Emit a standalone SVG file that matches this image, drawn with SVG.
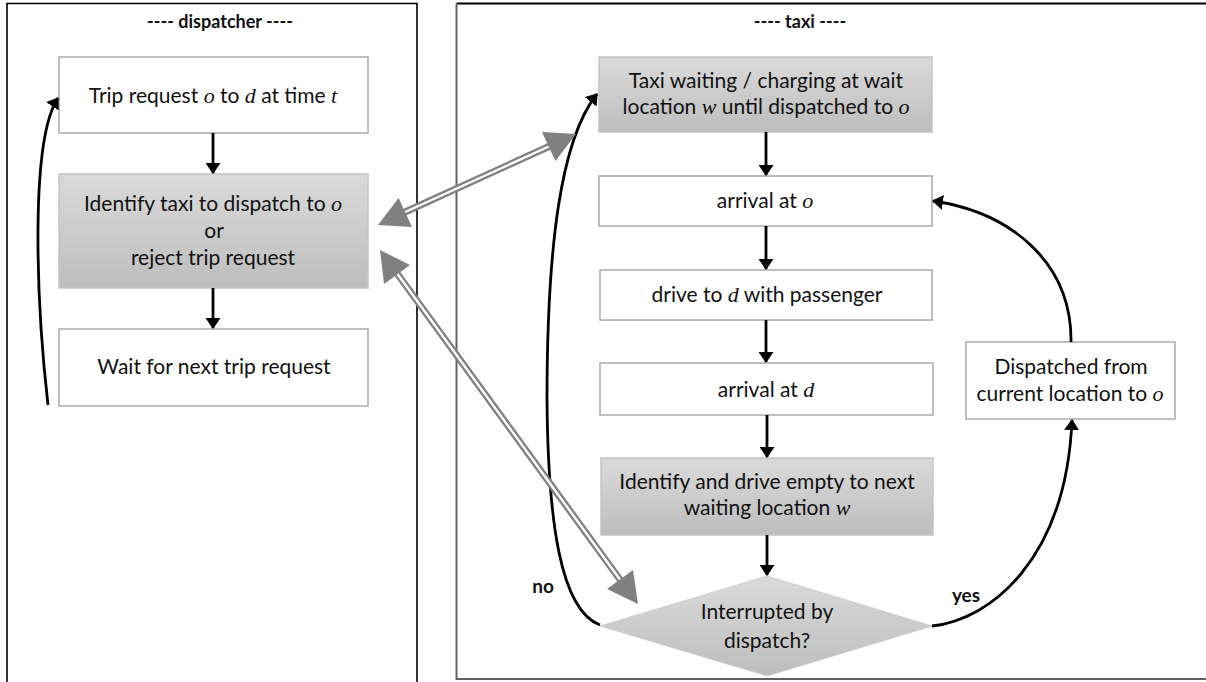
<svg xmlns="http://www.w3.org/2000/svg" width="1206" height="682" viewBox="0 0 1206 682">
  <defs>
    <linearGradient id="gray" x1="0" y1="0" x2="0" y2="1">
      <stop offset="0" stop-color="#dadada"/>
      <stop offset="1" stop-color="#bdbdbd"/>
    </linearGradient>
    <marker id="ah" markerUnits="userSpaceOnUse" markerWidth="11" markerHeight="15" viewBox="0 0 11 15" refX="10" refY="7.5" orient="auto">
      <path d="M0,0 L11,7.5 L0,15 z" fill="#000"/>
    </marker>
    <style>
      text { font-family: Lato, "Liberation Sans", sans-serif; font-size: 21px; fill: #111; }
      .m { font-family: "Liberation Serif", "DejaVu Serif", serif; font-style: italic; font-size: 22px; }
      .b { font-weight: bold; font-size: 18px; }
      .lbl { font-weight: bold; font-size: 19px; }
      .wbox { fill: #fff; stroke: #ababab; stroke-width: 1.5; }
      .gbox { fill: url(#gray); stroke: #c4c4c4; stroke-width: 1.5; }
      .arr { fill: none; stroke: #000; stroke-width: 2.8; marker-end: url(#ah); }
      .dl-out { fill: none; stroke: #808080; stroke-width: 7; }
      .dl-in { fill: none; stroke: #fff; stroke-width: 2.4; }
      .dh { fill: #808080; }
    </style>
  </defs>

  <rect width="1206" height="682" fill="#fff"/>

  <!-- panels -->
  <g id="panel-dispatcher">
    <path d="M7,690 V3.5 H417 V690" fill="none" stroke="#000" stroke-width="1.6"/>
    <text class="b" x="220" y="28" text-anchor="middle">---- dispatcher ----</text>
  </g>
  <g id="panel-taxi">
    <path d="M1210,3.5 H456.5" fill="none" stroke="#000" stroke-width="2"/>
    <path d="M456.5,3.5 V679 H1210" fill="none" stroke="#606060" stroke-width="2"/>
    <text class="b" x="800" y="28" text-anchor="middle">---- taxi ----</text>
  </g>

  <!-- dispatcher nodes -->
  <g id="trip-request">
    <rect class="wbox" x="59" y="57" width="309" height="76"/>
    <text x="213" y="103" text-anchor="middle">Trip request <tspan class="m">o</tspan> to <tspan class="m">d</tspan> at time <tspan class="m">t</tspan></text>
  </g>
  <g id="identify-taxi">
    <rect class="gbox" x="59" y="174" width="309" height="114"/>
    <text x="213" y="211" text-anchor="middle">Identify taxi to dispatch to <tspan class="m">o</tspan></text>
    <text x="214" y="238" text-anchor="middle">or</text>
    <text x="213" y="265" text-anchor="middle">reject trip request</text>
  </g>
  <g id="wait-next">
    <rect class="wbox" x="59" y="329" width="309" height="77"/>
    <text x="214" y="374" text-anchor="middle">Wait for next trip request</text>
  </g>

  <!-- taxi nodes -->
  <g id="taxi-waiting">
    <rect class="gbox" x="599" y="57" width="333" height="75"/>
    <text x="766" y="88" text-anchor="middle">Taxi waiting / charging at wait</text>
    <text x="766" y="114" text-anchor="middle">location <tspan class="m">w</tspan> until dispatched to <tspan class="m">o</tspan></text>
  </g>
  <g id="arrival-o">
    <rect class="wbox" x="599" y="176" width="333" height="50"/>
    <text x="765" y="208" text-anchor="middle">arrival at <tspan class="m">o</tspan></text>
  </g>
  <g id="drive-d">
    <rect class="wbox" x="600" y="270" width="332" height="50"/>
    <text x="767" y="302" text-anchor="middle">drive to <tspan class="m">d</tspan> with passenger</text>
  </g>
  <g id="arrival-d">
    <rect class="wbox" x="600" y="363" width="333" height="52"/>
    <text x="766" y="397" text-anchor="middle">arrival at <tspan class="m">d</tspan></text>
  </g>
  <g id="identify-drive">
    <rect class="gbox" x="601" y="458" width="332" height="77"/>
    <text x="767" y="489" text-anchor="middle">Identify and drive empty to next</text>
    <text x="767" y="515" text-anchor="middle">waiting location <tspan class="m">w</tspan></text>
  </g>
  <g id="interrupted">
    <polygon points="767,576 932,626 767,676 600,626" fill="url(#gray)" stroke="#cfcfcf" stroke-width="1"/>
    <text x="767" y="619" text-anchor="middle">Interrupted by</text>
    <text x="767" y="648" text-anchor="middle">dispatch?</text>
  </g>
  <g id="dispatched-from">
    <rect class="wbox" x="966" y="342" width="209" height="77"/>
    <text x="1071" y="374" text-anchor="middle">Dispatched from</text>
    <text x="1070" y="401" text-anchor="middle">current location to <tspan class="m">o</tspan></text>
  </g>

  <!-- connectors -->
  <g id="connectors">
    <line class="arr" x1="213" y1="133" x2="213" y2="173"/>
    <line class="arr" x1="213" y1="288" x2="213" y2="328"/>
    <path class="arr" d="M48,405 C36,300 30,140 58,98"/>

    <line class="arr" x1="766" y1="132" x2="766" y2="175"/>
    <line class="arr" x1="766" y1="226" x2="766" y2="269"/>
    <line class="arr" x1="766" y1="320" x2="766" y2="362"/>
    <line class="arr" x1="767" y1="415" x2="767" y2="457"/>
    <line class="arr" x1="767" y1="535" x2="767" y2="575"/>

    <path class="arr" d="M600,625 C560,610 548,520 547,400 C547,250 560,140 597,94"/>
    <path class="arr" d="M932,626 C990,620 1066,560 1072,420"/>
    <path class="arr" d="M1071,342 C1072,262 1010,212 933,201"/>

    <!-- double-line arrows -->
    <line class="dl-out" x1="403" y1="213" x2="550" y2="146"/>
    <line class="dl-in" x1="403" y1="213" x2="550" y2="146"/>
    <polygon class="dh" points="378,225 412,227 398.6,198"/>
    <polygon class="dh" points="576,134 555.4,161 542,132"/>

    <line class="dl-out" x1="396" y1="272" x2="621" y2="581"/>
    <line class="dl-in" x1="396" y1="272" x2="621" y2="581"/>
    <polygon class="dh" points="380,250 384,284 410,265"/>
    <polygon class="dh" points="638,604 607,589 633,570"/>

    <text class="lbl" x="543" y="593" text-anchor="middle">no</text>
    <text class="lbl" x="966" y="602" text-anchor="middle">yes</text>
  </g>
</svg>
